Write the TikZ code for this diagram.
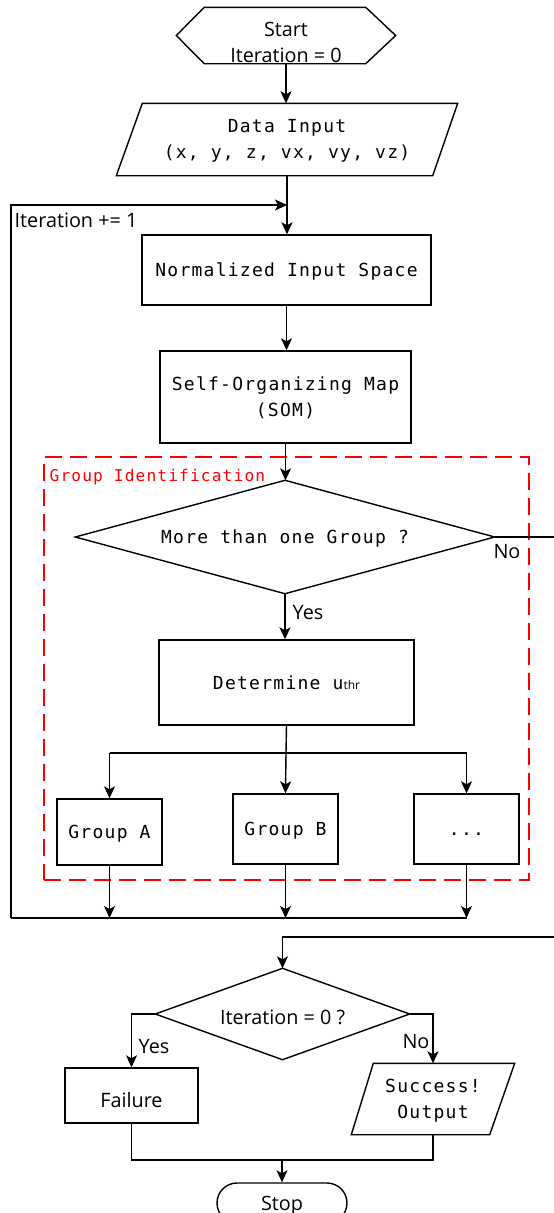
\documentclass[tikz,border=0pt]{standalone}
\usepackage{fontspec}
\setmainfont{Open Sans}
\setsansfont{Open Sans}
\setmonofont{DejaVu Sans Mono}[LetterSpace=7]
\usetikzlibrary{arrows.meta,calc}
\begin{document}
\begin{tikzpicture}[x=1pt,y=-1pt,
  line width=1.4pt,
  arr/.style={-{Stealth[length=12pt,width=11pt,inset=3pt]}},
  blk/.style={rectangle,inner sep=0pt,align=center},
  mono/.style={font=\ttfamily\fontsize{18}{26}\selectfont},
  monoone/.style={mono,text height=13.1pt,text depth=0pt},
  sans/.style={font=\sffamily\fontsize{19.8}{26}\selectfont},
  lbl/.style={font=\sffamily\fontsize{19.8}{22}\selectfont,inner sep=0pt}]
\clip (0,0) rectangle (554,1213);
\fill[white] (0,0) rectangle (554,1213);
% nodes
\node[blk,sans,text height=53pt,text depth=0pt,minimum width=218pt,minimum height=55pt] (start) at (286,35.5) {Start\\Iteration = 0};
\node[blk,mono,text height=37pt,text depth=0pt,minimum width=340pt,minimum height=71pt] (input) at (287,139.5) {Data Input\\(x, y, z, vx, vy, vz)};
\node[blk,monoone,draw,minimum width=289pt,minimum height=70pt] (norm) at (286.5,270) {Normalized Input Space};
\node[blk,mono,text height=38pt,text depth=0pt,draw,minimum width=251pt,minimum height=92pt] (som) at (285.5,397) {Self-Organizing Map\\(SOM)};
\node[blk,monoone,minimum width=418pt,minimum height=112pt] (dec1) at (285,537) {More than one Group ?};
\node[blk,monoone,draw,minimum width=255pt,minimum height=85pt] (det) at (286.5,682.5) {Determine u{\sffamily\fontsize{12}{12}\selectfont thr}};
\node[blk,monoone,draw,minimum width=105pt,minimum height=66pt] (gA) at (109.5,832) {Group A};
\node[blk,monoone,draw,minimum width=105pt,minimum height=70pt] (gB) at (285.5,829) {Group B};
\node[blk,monoone,draw,minimum width=105pt,minimum height=70pt] (gC) at (466.5,829) {...};
\node[blk,sans,text height=21pt,text depth=0pt,minimum width=253pt,minimum height=90pt] (dec2) at (282.5,1014) {Iteration = 0 ?};
\node[blk,sans,text height=24pt,text depth=0pt,draw,minimum width=133pt,minimum height=55pt] (fail) at (131.5,1095.5) {Failure};
\node[blk,mono,text height=38pt,text depth=0pt,minimum width=162pt,minimum height=70pt] (succ) at (433,1099) {Success!\\Output};
\node[blk,sans,text height=15pt,text depth=0pt,draw,rounded corners=20pt,minimum width=130pt,minimum height=40pt] (stop) at (282,1203) {Stop};
% shape outlines
\draw (start.west) -- ([xshift=28pt]start.north west) -- ([xshift=-30pt]start.north east) -- (start.east) -- ([xshift=-30pt]start.south east) -- ([xshift=28pt]start.south west) -- cycle;
\draw ([xshift=26pt]input.north west) -- (input.north east) -- ([xshift=-25pt]input.south east) -- (input.south west) -- cycle;
\draw (dec1.north) -- (dec1.east) -- (dec1.south) -- (dec1.west) -- cycle;
\draw (dec2.north) -- (dec2.east) -- (dec2.south) -- (dec2.west) -- cycle;
\draw ([xshift=22pt]succ.north west) -- (succ.north east) -- ([xshift=-25pt]succ.south east) -- (succ.south west) -- cycle;
% group frame
\node[draw=red,line width=1.3pt,dash pattern=on 17pt off 8pt,rectangle,minimum width=485pt,minimum height=423pt,inner sep=0pt] (frame) at (286.5,668.5) {};
\node[anchor=west,text=red,font=\ttfamily\fontsize{16.2}{18}\selectfont,inner sep=0pt,text height=11.8pt,text depth=0pt] (gid) at (49,476) {Group Identification};
% coordinates
\coordinate (lb) at (11,918);
\coordinate (lt) at (11,205);
\coordinate (lj) at (287,205);
\coordinate (br) at (286,753);
\coordinate (noR) at (554,537);
\coordinate (noR2) at (554,937);
\coordinate (mg) at (282,1160);
% connectors
\draw[arr] (start.south) -- (start.south |- input.north);
\draw[arr] (input.south -| lj) -- (lj |- norm.north);
\draw[arr] (lb) -- (lt) -- (lj);
\draw[arr] (norm.south) -- (norm.south |- som.north);
\draw[arr] (som.south) -- (som.south |- dec1.north);
\draw[arr] (dec1.south) -- (dec1.south |- det.north);
\draw (dec1.east) -- (noR);
\draw (det.south) -- (br);
\draw (gA.north |- br) -- (gC.north |- br);
\draw[arr] (gA.north |- br) -- (gA.north);
\draw[arr] (br) -- (gB.north);
\draw[arr] (gC.north |- br) -- (gC.north);
\draw (lb) -- (gC.south |- lb);
\draw[arr] (gA.south) -- (gA.south |- lb);
\draw[arr] (gB.south) -- (gB.south |- lb);
\draw[arr] (gC.south) -- (gC.south |- lb);
\draw[arr] (noR2) -- (dec2.north |- noR2) -- (dec2.north);
\draw[arr] (dec2.west) -- (fail.north |- dec2.west) -- (fail.north);
\draw[arr] (dec2.east) -- (succ.north |- dec2.east) -- (succ.north);
\draw (fail.south) -- (fail.south |- mg) -- (succ.south |- mg) -- (succ.south);
\draw[arr] (mg) -- (stop.north);
% labels
\node[lbl,anchor=west] (itl) at (14,220) {Iteration += 1};
\node[lbl] (no1) at (507,552) {No};
\node[lbl] (yes1) at (308,613) {Yes};
\node[lbl] (yes2) at (154,1047) {Yes};
\node[lbl] (no2) at (416,1042) {No};
\end{tikzpicture}
\end{document}
